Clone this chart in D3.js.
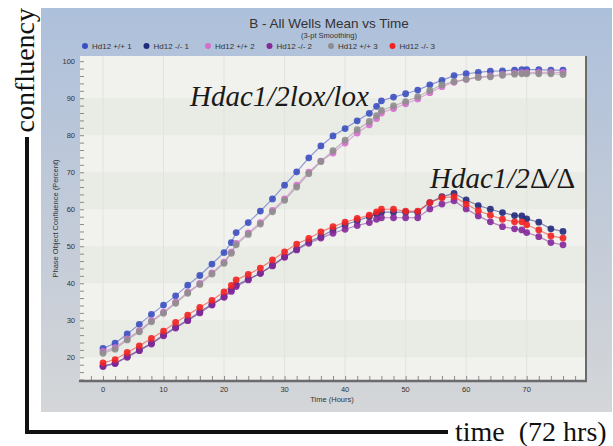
<!DOCTYPE html>
<html>
<head>
<meta charset="utf-8">
<script src="https://cdnjs.cloudflare.com/ajax/libs/d3/7.8.5/d3.min.js"></script>
<style>
  body { margin: 0; background: #fff; }
  svg { display: block; }
</style>
</head>
<body>
<svg id="chart" width="613" height="446"></svg>
<script>
// scan times (hours), extra scan roughly once a day
const times = [0,2,4,6,8,10,12,14,16,18,20,21.2,22,24,26,28,30,32,34,36,38,40,42,44,45.2,46,48,50,52,54,56,58,60,62,64,66,68,69.2,70,72,74,76];

const wt1 = [22.4,23.8,26.3,28.9,31.6,34.1,36.6,39.5,42.1,45.2,48.3,51.0,53.7,56.4,59.5,62.8,66.5,70.1,73.9,77.1,79.8,81.8,83.9,85.9,87.8,89.3,90.3,91.2,92.2,93.6,94.8,96.1,96.6,97.0,97.3,97.4,97.6,97.7,97.7,97.7,97.6,97.6];
const ko1 = [17.7,18.4,20.2,22.0,23.8,26.0,28.1,30.1,32.3,34.3,36.4,38.2,39.5,41.1,42.7,44.9,47.2,49.2,51.2,52.6,54.4,55.8,56.9,58.0,58.7,59.2,59.2,59.2,59.2,61.8,63.4,64.3,62.5,61.0,60.0,59.1,58.3,58.2,57.4,56.5,54.7,54.0];
const wt2 = [21.6,22.6,25.0,27.2,29.9,32.2,34.9,37.6,40.0,42.8,45.7,48.4,50.8,53.6,56.4,59.7,62.8,66.5,70.0,73.0,75.2,77.9,80.6,82.8,84.5,86.0,87.2,88.5,89.8,91.5,93.1,94.3,95.1,95.7,96.0,96.4,96.8,96.9,96.9,97.0,97.0,97.0];
const ko2 = [17.5,18.3,20.0,21.8,23.6,25.8,27.9,29.9,32.0,34.1,36.2,37.8,39.1,40.9,42.7,44.7,47.0,49.0,50.8,52.2,53.5,54.6,55.6,56.4,57.3,57.7,57.7,57.7,57.7,60.1,61.4,62.3,60.1,58.2,56.6,55.3,54.7,54.4,53.7,52.6,51.0,50.4];
const wt3 = [21.1,22.2,24.7,26.9,29.6,31.9,34.6,37.3,39.7,42.5,45.4,48.1,50.4,53.2,56.0,59.3,62.4,66.0,69.6,72.9,75.8,78.7,81.5,83.7,85.3,86.7,87.9,89.1,90.4,92.1,93.6,94.5,95.1,95.6,95.8,96.2,96.5,96.6,96.6,96.6,96.6,96.4];
const ko3 = [18.5,19.4,21.3,23.1,25.1,27.1,29.4,31.4,33.5,35.4,37.7,39.4,40.9,42.4,44.1,46.3,48.5,50.6,52.1,53.9,55.3,56.5,57.5,58.4,59.3,60.0,60.0,59.5,59.5,61.8,63.1,63.4,61.4,59.6,58.4,57.3,56.6,56.6,55.8,54.4,52.8,52.2];

const seriesNames = ["Hd12 +/+ 1","Hd12 -/- 1","Hd12 +/+ 2","Hd12 -/- 2","Hd12 +/+ 3","Hd12 -/- 3"];
const seriesValues = [wt1, ko1, wt2, ko2, wt3, ko3];
const colors = ["#3c4fc0","#222a7c","#d46ecd","#84289a","#8e8e8e","#f22222"];

const yTicks = [20,30,40,50,60,70,80,90,100];
const xTicks = [0,10,20,30,40,50,60,70];

const svg = d3.select("#chart");
const font = "'Liberation Sans', Arial, sans-serif";
const serif = "'Liberation Serif', 'Times New Roman', serif";

// panel background
const defs = svg.append("defs");
const grad = defs.append("linearGradient").attr("id", "panelGrad")
    .attr("x1", 0).attr("y1", 0).attr("x2", 0).attr("y2", 1);
grad.append("stop").attr("offset", "0%").attr("stop-color", "#adc0db");
grad.append("stop").attr("offset", "55%").attr("stop-color", "#c3cbd8");
grad.append("stop").attr("offset", "100%").attr("stop-color", "#d4d6d8");

svg.append("rect").attr("x", 41).attr("y", 8).attr("width", 571).attr("height", 404)
    .attr("fill", "url(#panelGrad)");

const plot = {left: 80, right: 586, top: 56, bottom: 381};
const x = d3.scaleLinear().domain([-3.8, 79.8]).range([plot.left, plot.right]);
const y = d3.scaleLinear().domain([13.6, 101.4]).range([plot.bottom, plot.top]);

svg.append("rect").attr("x", plot.left).attr("y", plot.top)
    .attr("width", plot.right - plot.left).attr("height", plot.bottom - plot.top)
    .attr("fill", "#f1f2ed");

// alternating bands
[20,40,60,80].forEach(function(v) {
    svg.append("rect").attr("x", plot.left).attr("y", y(v + 10))
        .attr("width", plot.right - plot.left).attr("height", y(v) - y(v + 10))
        .attr("fill", "#e9ebe5");
});

svg.append("g").selectAll("line").data(xTicks).join("line")
    .attr("x1", d => x(d)).attr("x2", d => x(d))
    .attr("y1", plot.top).attr("y2", plot.bottom)
    .attr("stroke", "#e2e3de").attr("stroke-width", 1);

// axes
const yAxis = d3.axisRight(y).tickValues(d3.range(14, 101, 2)).tickSize(4).tickFormat("");
const ya = svg.append("g").attr("transform", `translate(${plot.left},0)`).call(yAxis);
ya.select(".domain").remove();
ya.selectAll("line").attr("stroke", "#8a8a8a");

const xAxis = d3.axisTop(x).tickValues(d3.range(-2, 79, 2)).tickSize(4).tickFormat("");
const xa = svg.append("g").attr("transform", `translate(0,${plot.bottom - 1})`).call(xAxis);
xa.select(".domain").remove();
xa.selectAll("line").attr("stroke", "#8a8a8a");

svg.append("line").attr("x1", plot.left - 1).attr("x2", plot.right + 1)
    .attr("y1", plot.bottom).attr("y2", plot.bottom)
    .attr("stroke", "#6b6b6b").attr("stroke-width", 2.5);
svg.append("line").attr("x1", plot.right).attr("x2", plot.right)
    .attr("y1", plot.top).attr("y2", plot.bottom)
    .attr("stroke", "#6b6b6b").attr("stroke-width", 2);

svg.append("g").selectAll("text").data(yTicks).join("text")
    .attr("x", 75).attr("y", d => y(d) + 2.5)
    .attr("text-anchor", "end").attr("font-family", font).attr("font-size", 7.5)
    .attr("fill", "#333").text(d => d);

svg.append("g").selectAll("text").data(xTicks).join("text")
    .attr("x", d => x(d)).attr("y", 392)
    .attr("text-anchor", "middle").attr("font-family", font).attr("font-size", 7.5)
    .attr("fill", "#333").text(d => d);

svg.append("text").attr("x", 332).attr("y", 402).attr("text-anchor", "middle")
    .attr("font-family", font).attr("font-size", 7.5).attr("fill", "#333")
    .text("Time (Hours)");

svg.append("text").attr("transform", `translate(58,${(plot.top + plot.bottom) / 2}) rotate(-90)`)
    .attr("text-anchor", "middle").attr("font-family", font).attr("font-size", 7.5)
    .attr("fill", "#333").text("Phase Object Confluence (Percent)");

// title + legend
svg.append("text").attr("x", 329).attr("y", 28).attr("text-anchor", "middle")
    .attr("font-family", font).attr("font-size", 13.5).attr("fill", "#333")
    .text("B - All Wells Mean vs Time");
svg.append("text").attr("x", 329).attr("y", 38).attr("text-anchor", "middle")
    .attr("font-family", font).attr("font-size", 7.5).attr("fill", "#333")
    .text("(3-pt Smoothing)");

const legend = svg.append("g").selectAll("g").data(seriesNames).join("g")
    .attr("transform", (d, i) => `translate(${85 + i * 61.5},46)`);
legend.append("circle").attr("r", 3).attr("fill", (d, i) => colors[i]);
legend.append("text").attr("x", 7).attr("y", 2.8).attr("font-family", font)
    .attr("font-size", 8).attr("fill", "#333").text(d => d);

// series
const line = d3.line().x(d => x(d[0])).y(d => y(d[1]));
seriesValues.forEach(function(vals, i) {
    const pts = times.map((t, j) => [t, vals[j]]);
    svg.append("path").datum(pts).attr("d", line)
        .attr("fill", "none").attr("stroke", colors[i])
        .attr("stroke-opacity", 0.55).attr("stroke-width", 1.2);
    svg.append("g").selectAll("circle").data(pts).join("circle")
        .attr("cx", d => x(d[0])).attr("cy", d => y(d[1])).attr("r", 3.4)
        .attr("fill", colors[i]).attr("fill-opacity", 0.9);
});

// annotations
svg.append("text").attr("x", 190).attr("y", 106).attr("font-family", serif)
    .attr("font-style", "italic").attr("font-size", 29).attr("fill", "#1a1a1a")
    .text("Hdac1/2lox/lox");
const delta = svg.append("text").attr("x", 430).attr("y", 188).attr("font-family", serif)
    .attr("font-style", "italic").attr("font-size", 29).attr("fill", "#1a1a1a");
delta.append("tspan").text("Hdac1/2");
delta.append("tspan").attr("font-style", "normal").text("Δ");
delta.append("tspan").text("/");
delta.append("tspan").attr("font-style", "normal").text("Δ");

// outer axis bracket
svg.append("path").attr("d", "M27,137 L27,432 L448,432")
    .attr("fill", "none").attr("stroke", "#111").attr("stroke-width", 4);
svg.append("text").attr("transform", "translate(34,8) rotate(-90)")
    .attr("text-anchor", "end").attr("font-family", serif).attr("font-size", 28)
    .attr("fill", "#111").text("confluency");
svg.append("text").attr("x", 455).attr("y", 441).attr("font-family", serif)
    .attr("font-size", 28).attr("fill", "#111").attr("xml:space", "preserve")
    .text("time  (72 hrs)");
</script>
</body>
</html>
